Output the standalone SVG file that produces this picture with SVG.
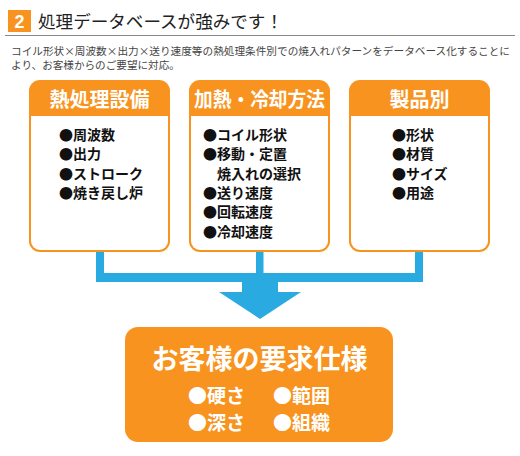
<svg xmlns="http://www.w3.org/2000/svg" width="520" height="456" viewBox="0 0 520 456">
<style>
.jp{font-family:"Noto Sans CJK JP","Noto Sans",sans-serif}
.hd{font-family:"Noto Sans CJK JP",sans-serif;font-weight:bold;fill:#fff;font-size:20px;text-anchor:middle}
.it{font-family:"Noto Sans CJK JP",sans-serif;font-weight:bold;fill:#111;font-size:14px}
.bt{font-family:"Noto Sans CJK JP",sans-serif;font-weight:bold;fill:#fff}
.org{fill:#f7931e}
.blue{fill:#29abe2}
</style>
<rect width="520" height="456" fill="#fff"/>
<g id="header">
<rect x="8" y="10" width="23" height="22" class="org"/>
<text x="19.5" y="28" font-family="Liberation Sans,Arial,sans-serif" font-weight="bold" font-size="18" fill="#fff" text-anchor="middle">2</text>
<text x="38" y="28" class="jp" font-size="17.5" fill="#222" textLength="245" lengthAdjust="spacingAndGlyphs">処理データベースが強みです！</text>
<line x1="5" y1="35.5" x2="515" y2="35.5" stroke="#888" stroke-width="1"/>
<text x="11" y="55" class="jp" font-size="10.6" fill="#444" textLength="499" lengthAdjust="spacingAndGlyphs">コイル形状×周波数×出力×送り速度等の熱処理条件別での焼入れパターンをデータベース化することに</text>
<text x="11" y="68.5" class="jp" font-size="10.6" fill="#444">より、お客様からのご要望に対応。</text>
</g>
<g id="connectors">
<rect x="96" y="252" width="8" height="30" class="blue"/>
<rect x="256" y="252" width="7.5" height="30" class="blue"/>
<rect x="415" y="252" width="8" height="30" class="blue"/>
<rect x="96" y="273" width="327" height="9" class="blue"/>
<rect x="242" y="281" width="36" height="12" class="blue"/>
<polygon points="219,292 301,292 260,319" class="blue"/>
</g>
<g id="box1">
<rect x="29" y="80" width="141" height="172" rx="11" class="org"/>
<path d="M31,116 H168 V241 A9,9 0 0 1 159,250 H40 A9,9 0 0 1 31,241 Z" fill="#fff"/>
<text x="99.5" y="107" class="hd">熱処理設備</text>
<text x="59" y="140" class="it">●周波数</text>
<text x="59" y="159.3" class="it">●出力</text>
<text x="59" y="178.6" class="it">●ストローク</text>
<text x="59" y="197.9" class="it">●焼き戻し炉</text>
</g>
<g id="box2">
<rect x="189" y="80" width="141" height="172" rx="11" class="org"/>
<path d="M191,116 H328 V241 A9,9 0 0 1 319,250 H200 A9,9 0 0 1 191,241 Z" fill="#fff"/>
<text x="259.5" y="107" class="hd" textLength="131" lengthAdjust="spacingAndGlyphs">加熱・冷却方法</text>
<text x="203" y="140" class="it">●コイル形状</text>
<text x="203" y="159.3" class="it">●移動・定置</text>
<text x="217" y="178.6" class="it">焼入れの選択</text>
<text x="203" y="197.9" class="it">●送り速度</text>
<text x="203" y="217.2" class="it">●回転速度</text>
<text x="203" y="236.5" class="it">●冷却速度</text>
</g>
<g id="box3">
<rect x="349" y="80" width="141" height="172" rx="11" class="org"/>
<path d="M351,116 H488 V241 A9,9 0 0 1 479,250 H360 A9,9 0 0 1 351,241 Z" fill="#fff"/>
<text x="419.5" y="107" class="hd">製品別</text>
<text x="392" y="140" class="it">●形状</text>
<text x="392" y="159.3" class="it">●材質</text>
<text x="392" y="178.6" class="it">●サイズ</text>
<text x="392" y="197.9" class="it">●用途</text>
</g>
<g id="result">
<rect x="125" y="327" width="268" height="115" rx="13" class="org"/>
<text x="259.5" y="369" class="bt" font-size="27" text-anchor="middle">お客様の要求仕様</text>
<text x="188" y="403" class="bt" font-size="19">●硬さ</text>
<text x="273" y="403" class="bt" font-size="19">●範囲</text>
<text x="188" y="430" class="bt" font-size="19">●深さ</text>
<text x="273" y="430" class="bt" font-size="19">●組織</text>
</g>
</svg>
